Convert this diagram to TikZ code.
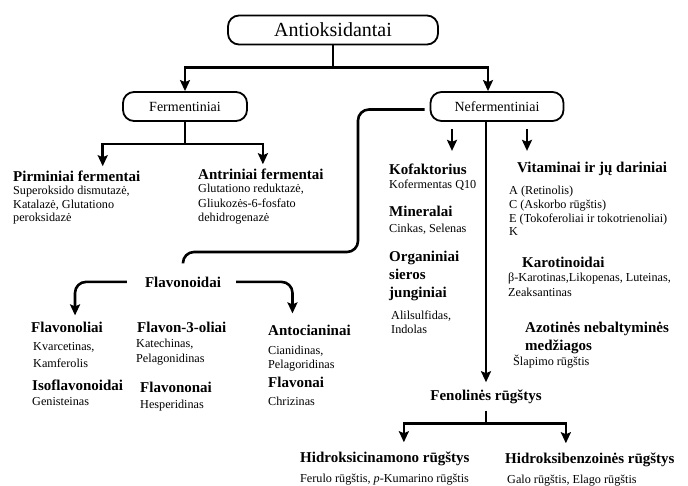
\documentclass[tikz,border=0pt]{standalone}
\usepackage{fontspec}
\setmainfont{Liberation Serif}
\usetikzlibrary{arrows.meta,positioning}

\begin{document}
\begin{tikzpicture}[x=1pt,y=-1pt,
    rbox/.style={draw, line width=1.8pt, rounded corners=11pt, minimum height=29pt, inner sep=2pt},
    head/.style={font=\bfseries\fontsize{15}{18}\selectfont, inner sep=0pt, anchor=base west, align=left},
    body/.style={font=\fontsize{12.2}{14}\selectfont, inner sep=0pt, anchor=base west, align=left},
    bar/.style={line width=2.6pt},
    link/.style={line width=2.6pt, -{Stealth[length=11pt,width=10pt,inset=2pt]}, shorten >=5pt}]
            \useasboundingbox (0,0) rectangle (688,486);
            % Boxes
            \node[rbox, minimum width=210pt, font=\fontsize{20}{22}\selectfont] (anti) at (333,30) {Antioksidantai};
            \node[rbox, minimum width=124pt, font=\fontsize{14}{16}\selectfont] (ferm) at (185,106.5) {Fermentiniai};
            \node[rbox, minimum width=133pt, font=\fontsize{14}{16}\selectfont] (neferm) at (497,106.5) {Nefermentiniai};
            % Fermentiniai (multi-line texts sit on their last line)
            \node[head] (pirm) at (13,182) {Pirminiai fermentai};
            \node[body, font=\fontsize{12.2}{13.5}\selectfont] (pirmt) at (13,222) {Superoksido dismutazė,\\Katalazė, Glutationo\\peroksidazė};
            \node[head] (antr) at (198,180) {Antriniai fermentai};
            \node[body, font=\fontsize{12.2}{14.5}\selectfont] (antrt) at (198,222) {Glutationo reduktazė,\\Gliukozės-6-fosfato\\dehidrogenazė};
            % Nefermentiniai
            \node[head] (kof) at (389,175) {Kofaktorius};
            \node[body] (koft) at (389,189) {Kofermentas Q10};
            \node[head] (min) at (389,217) {Mineralai};
            \node[body] (mint) at (389,233) {Cinkas, Selenas};
            \node[head] (org) at (389,298) {Organiniai\\sieros\\junginiai};
            \node[body] (orgt) at (391,334) {Alilsulfidas,\\Indolas};
            \node[head] (vit) at (517,173) {Vitaminai ir jų dariniai};
            \node[body, font=\fontsize{12.2}{13.7}\selectfont] (vitt) at (509,236) {A (Retinolis)\\C (Askorbo rūgštis)\\E (Tokoferoliai ir tokotrienoliai)\\K};
            \node[head] (karo) at (522,268) {Karotinoidai};
            \node[body, font=\fontsize{12.2}{15}\selectfont] (karot) at (508,297) {β-Karotinas,Likopenas, Luteinas,\\Zeaksantinas};
            \node[head] (azot) at (525,350) {Azotinės nebaltyminės\\medžiagos};
            \node[body] (azott) at (513,365) {Šlapimo rūgštis};
            % Flavonoidai
            \node[head, anchor=base] (flav) at (183,288) {Flavonoidai};
            \node[head] (flavol) at (31,333) {Flavonoliai};
            \node[body, font=\fontsize{12.2}{17}\selectfont] (flavolt) at (33,367) {Kvarcetinas,\\Kamferolis};
            \node[head] (isofl) at (32,390) {Isoflavonoidai};
            \node[body] (isoflt) at (32,405) {Genisteinas};
            \node[head] (flav3) at (137,332) {Flavon-3-oliai};
            \node[body, font=\fontsize{12.2}{15}\selectfont] (flav3t) at (136,362) {Katechinas,\\Pelagonidinas};
            \node[head] (flavon) at (140,392) {Flavononai};
            \node[body] (flavont) at (140,408) {Hesperidinas};
            \node[head] (anto) at (268,335) {Antocianinai};
            \node[body] (antot) at (268,368) {Cianidinas,\\Pelagoridinas};
            \node[head] (flavai) at (268,387) {Flavonai};
            \node[body] (flavait) at (268,405) {Chrizinas};
            % Fenolines rugstys
            \node[head, anchor=base] (fenol) at (486,400) {Fenolinės rūgštys};
            \node[head] (hcin) at (300,462) {Hidroksicinamono rūgštys};
            \node[body] (hcint) at (300,482) {Ferulo rūgštis, \emph{p}-Kumarino rūgštis};
            \node[head] (hben) at (505,463) {Hidroksibenzoinės rūgštys};
            \node[body] (hbent) at (507,483) {Galo rūgštis, Elago rūgštis};
            % Connectors
            \draw[bar] (anti.south) -- ([yshift=-22pt]anti.south) coordinate (asplit);
            \draw[link, shorten >=0pt] (asplit) -| (ferm.north);
            \draw[link, shorten >=0pt] (asplit) -| ([xshift=-9pt]neferm.north);
            \draw[bar] (ferm.south) -- ([yshift=-22pt]ferm.south) coordinate (fsplit);
            \draw[link] (fsplit) -| ([xshift=26pt]pirm.north);
            \draw[link] (fsplit) -| ([xshift=2pt]antr.north);
            \draw[link, shorten >=0pt] ([xshift=-45pt,yshift=-7pt]neferm.south) -- ([xshift=-45pt,yshift=-29pt]neferm.south);
            \draw[link, shorten >=0pt] ([xshift=30pt,yshift=-7pt]neferm.south) -- ([xshift=30pt,yshift=-29pt]neferm.south);
            \draw[link, shorten >=7pt] (neferm.south -| fenol.north) -- (fenol.north);
            \coordinate (fbend) at (358,252);
            \draw[bar, rounded corners=11pt, shorten >=14pt] ([xshift=-5pt,yshift=-3pt]neferm.west) -| (fbend) -| (flav.north);
            \draw[link, rounded corners=11pt, shorten >=7pt] ([xshift=-18pt,yshift=1pt]flav.west) -| ([xshift=8pt]flavol.north);
            \draw[link, rounded corners=11pt, shorten >=11pt] ([xshift=15pt,yshift=1pt]flav.east) -| ([xshift=-17pt]anto.north);
            \draw[bar] ([yshift=-7pt]fenol.south) -- ([yshift=-20pt]fenol.south) coordinate (psplit);
            \draw[link, shorten >=9pt] (psplit) -| ([xshift=19pt]hcin.north);
            \draw[link, shorten >=9pt] (psplit) -| ([xshift=-24pt]hben.north);
\end{tikzpicture}
\end{document}
